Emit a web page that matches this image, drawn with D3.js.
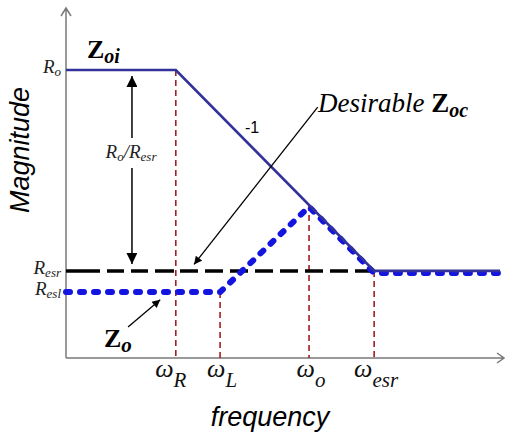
<!DOCTYPE html>
<html>
<head>
<meta charset="utf-8">
<script src="https://cdn.jsdelivr.net/npm/d3@7"></script>
<style>
  body { margin: 0; background: #fff; }
  svg { display: block; }
</style>
</head>
<body>
<svg id="chart" width="505" height="436"></svg>
<script>
// frequency / magnitude in arbitrary (log-like) units
const tickNames = ["R", "L", "o", "esr"];
const tickFreq = [25.3, 35.5, 56, 71];
const tickTop = [8, 1.83, 4.25, 2.42];

const zoiFreq = [0, 25.3, 71, 100];
const zoiMag = [8, 8, 2.42, 2.42];

const zoFreq = [0, 35.5, 56, 71, 100];
const zoMag = [1.83, 1.83, 4.2, 2.36, 2.36];

const zocFreq = [0, 71];
const zocMag = [2.42, 2.42];

const levelNames = ["o", "esr", "esl"];
const levelMag = [8, 2.42, 1.83];

const svg = d3.select('#chart');
const serif = '"Liberation Serif", "Times New Roman", serif';
const sans = '"Liberation Sans", Arial, sans-serif';

const x = d3.scaleLinear().domain([0, 100]).range([66, 500]);
const y = d3.scaleLinear().domain([0, 8]).range([358, 70]);

const line = d3.line().x(d => x(d[0])).y(d => y(d[1]));
const zip = (a, b) => a.map((v, i) => [v, b[i]]);

const defs = svg.append('defs');
defs.append('marker')
  .attr('id', 'head').attr('viewBox', '0 0 10 10')
  .attr('refX', 10).attr('refY', 5)
  .attr('markerWidth', 10).attr('markerHeight', 8)
  .attr('markerUnits', 'userSpaceOnUse')
  .attr('orient', 'auto-start-reverse')
  .append('path').attr('d', 'M0,0 L10,5 L0,10 Z').attr('fill', '#000');
defs.append('marker')
  .attr('id', 'bighead').attr('viewBox', '0 0 10 10')
  .attr('refX', 10).attr('refY', 5)
  .attr('markerWidth', 15).attr('markerHeight', 11)
  .attr('markerUnits', 'userSpaceOnUse')
  .attr('orient', 'auto-start-reverse')
  .append('path').attr('d', 'M0,0 L10,5 L0,10 Z').attr('fill', '#000');

// axes
const axisColor = '#7a7a7a';
svg.append('path')
  .attr('d', `M${x(0)},${y(0)} V8 M${x(0) - 5},16 L${x(0)},8 L${x(0) + 5},16`)
  .attr('fill', 'none').attr('stroke', axisColor).attr('stroke-width', 1.5);
svg.append('path')
  .attr('d', `M${x(0)},${y(0)} H504 M497,${y(0) - 5} L504,${y(0)} L497,${y(0) + 5}`)
  .attr('fill', 'none').attr('stroke', axisColor).attr('stroke-width', 1.5);

// red dashed guides
svg.selectAll('line.guide')
  .data(tickFreq)
  .enter().append('line')
  .attr('class', 'guide')
  .attr('x1', d => x(d)).attr('x2', d => x(d))
  .attr('y1', (d, i) => y(tickTop[i])).attr('y2', y(0))
  .attr('stroke', '#a31d24').attr('stroke-width', 1.6)
  .attr('stroke-dasharray', '6,4');

// desirable Zoc (black dashed)
svg.append('path')
  .attr('d', line(zip(zocFreq, zocMag)))
  .attr('fill', 'none').attr('stroke', '#000').attr('stroke-width', 3.5)
  .attr('stroke-dasharray', '34,7,17,7,17,7,19,6,18,7,18,7,18,7,18,7,18,7,18,7,18,7,18,7');

// Zo (blue dotted)
svg.append('path')
  .attr('d', line(zip(zoFreq, zoMag)))
  .attr('fill', 'none').attr('stroke', '#1414e0').attr('stroke-width', 6)
  .attr('stroke-linecap', 'round')
  .attr('stroke-dasharray', '4,10');

// Zoi (solid navy)
svg.append('path')
  .attr('d', line(zip(zoiFreq, zoiMag)))
  .attr('fill', 'none').attr('stroke', '#32329a').attr('stroke-width', 2.7);

// Ro/Resr double arrow
svg.append('line')
  .attr('x1', x(15.2)).attr('x2', x(15.2))
  .attr('y1', y(8) + 6).attr('y2', 138)
  .attr('stroke', '#000').attr('stroke-width', 1.5)
  .attr('marker-start', 'url(#bighead)');
svg.append('line')
  .attr('x1', x(15.2)).attr('x2', x(15.2))
  .attr('y1', 168).attr('y2', y(2.42) - 7)
  .attr('stroke', '#000').attr('stroke-width', 1.5)
  .attr('marker-end', 'url(#bighead)');

// pointer arrows
svg.append('line')
  .attr('x1', x(58)).attr('y1', y(6.97))
  .attr('x2', x(29.5)).attr('y2', y(2.6))
  .attr('stroke', '#000').attr('stroke-width', 1.3)
  .attr('marker-end', 'url(#head)');
svg.append('line')
  .attr('x1', x(14.3)).attr('y1', y(0.86))
  .attr('x2', x(21.7)).attr('y2', y(1.62))
  .attr('stroke', '#000').attr('stroke-width', 1.3)
  .attr('marker-end', 'url(#head)');

// magnitude level labels
const lev = svg.selectAll('text.level')
  .data(levelNames)
  .enter().append('text')
  .attr('class', 'level')
  .attr('x', 61)
  .attr('y', (d, i) => y(levelMag[i]) + 3)
  .attr('text-anchor', 'end')
  .attr('font-family', serif).attr('font-style', 'italic')
  .attr('fill', '#222');
lev.append('tspan').attr('font-size', 19).text('R');
lev.append('tspan').attr('font-size', 13).attr('dy', 3).text(d => d);

// frequency tick labels
const tk = svg.selectAll('text.tick')
  .data(tickNames)
  .enter().append('text')
  .attr('class', 'tick')
  .attr('x', (d, i) => x(tickFreq[i]) + (i === 0 ? -5 : 2))
  .attr('y', 377)
  .attr('text-anchor', 'middle')
  .attr('font-family', serif).attr('font-style', 'italic')
  .attr('fill', '#111');
tk.append('tspan').attr('font-size', 26).text('ω');
tk.append('tspan').attr('font-size', 21).attr('dy', 10).text(d => d);

// curve labels
const zoi = svg.append('text').attr('x', 87).attr('y', 58)
  .attr('font-family', serif).attr('font-weight', 'bold');
zoi.append('tspan').attr('font-size', 26).text('Z');
zoi.append('tspan').attr('font-size', 20).attr('font-style', 'italic').attr('dy', 5).text('oi');

const zo = svg.append('text').attr('x', 104).attr('y', 347)
  .attr('font-family', serif).attr('font-weight', 'bold');
zo.append('tspan').attr('font-size', 26).text('Z');
zo.append('tspan').attr('font-size', 21).attr('font-style', 'italic').attr('dy', 5).text('o');

const zoc = svg.append('text').attr('x', 318).attr('y', 112)
  .attr('font-family', serif);
zoc.append('tspan').attr('font-size', 27).attr('font-style', 'italic').text('Desirable ');
zoc.append('tspan').attr('font-size', 27).attr('font-weight', 'bold').text('Z');
zoc.append('tspan').attr('font-size', 20).attr('font-weight', 'bold').attr('font-style', 'italic').attr('dy', 5).text('oc');

const ratio = svg.append('text').attr('x', 131).attr('y', 158)
  .attr('text-anchor', 'middle')
  .attr('font-family', serif).attr('font-style', 'italic').attr('fill', '#222');
ratio.append('tspan').attr('font-size', 19).text('R');
ratio.append('tspan').attr('font-size', 13).attr('dy', 3).text('o');
ratio.append('tspan').attr('font-size', 19).attr('dy', -3).text('/R');
ratio.append('tspan').attr('font-size', 13).attr('dy', 3).text('esr');

svg.append('text').attr('x', 252).attr('y', 133)
  .attr('text-anchor', 'middle')
  .attr('font-family', sans).attr('font-size', 16)
  .text('-1');

// axis titles
svg.append('text')
  .attr('transform', 'translate(29,150) rotate(-90)')
  .attr('text-anchor', 'middle')
  .attr('font-family', sans).attr('font-style', 'italic').attr('font-size', 27)
  .text('Magnitude');
svg.append('text')
  .attr('x', 270).attr('y', 426)
  .attr('text-anchor', 'middle')
  .attr('font-family', sans).attr('font-style', 'italic').attr('font-size', 27)
  .text('frequency');
</script>
</body>
</html>
